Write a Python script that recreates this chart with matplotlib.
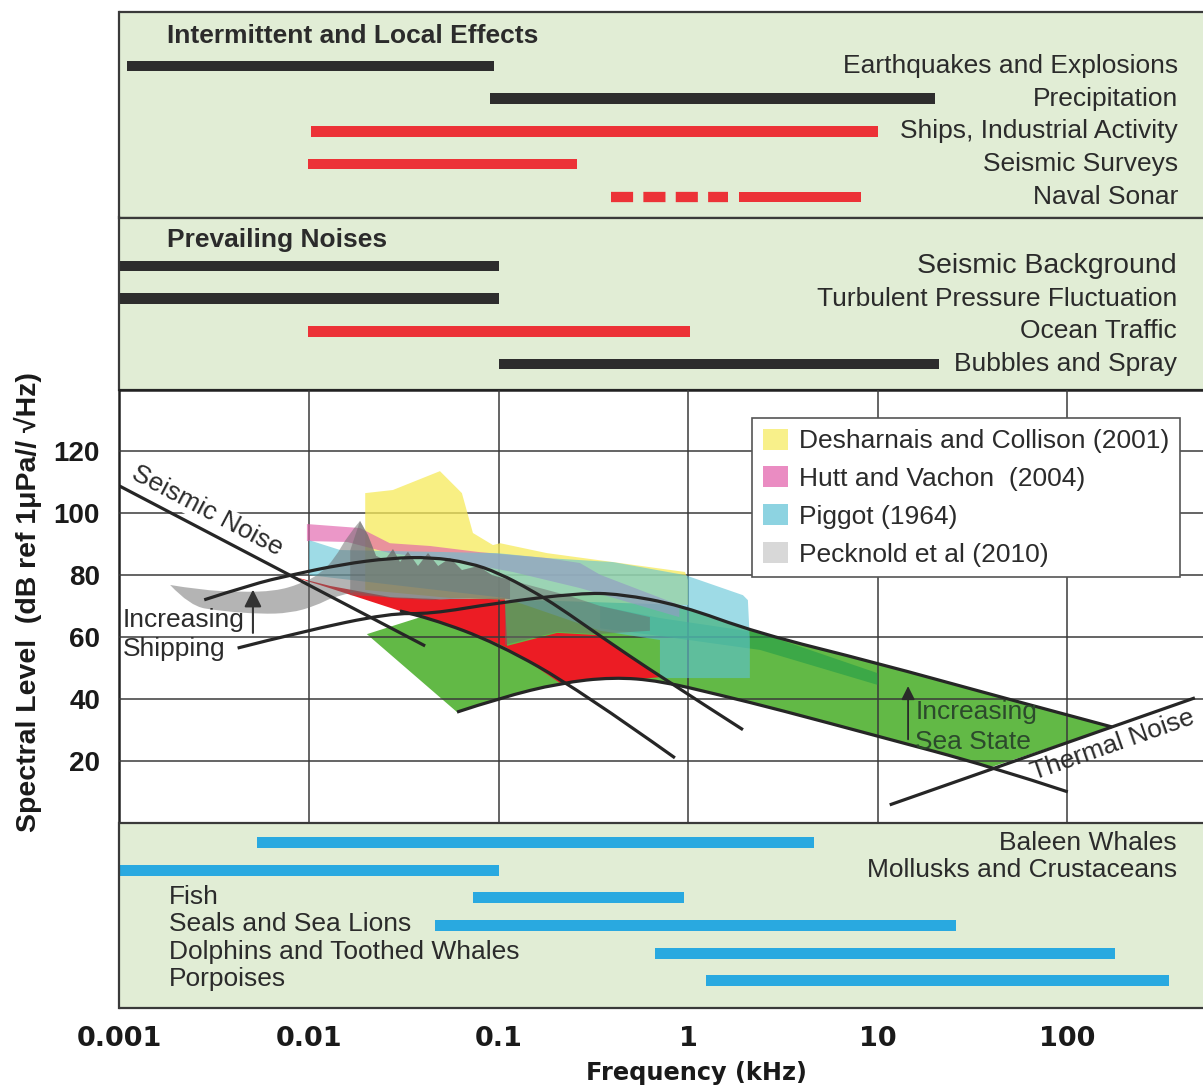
import numpy as np
import matplotlib.pyplot as plt
from matplotlib.patches import Patch, PathPatch
from matplotlib.path import Path
from matplotlib.ticker import NullLocator

plt.rcParams['font.family'] = ['Liberation Sans', 'DejaVu Sans']

F_MIN, F_MAX = 0.001, 522.0

# ---- band panels (frequency ranges in kHz) ----
local_labels = ['Earthquakes and Explosions', 'Precipitation', 'Ships, Industrial Activity',
                'Seismic Surveys', 'Naval Sonar']
local_lo = [0.0011, 0.09, 0.0102, 0.0099, 1.86]
local_hi = [0.095, 20.0, 10.0, 0.26, 8.2]
local_kind = ['natural', 'natural', 'human', 'human', 'human']
sonar_dash_range = [0.39, 1.63]

prevailing_labels = ['Seismic Background', 'Turbulent Pressure Fluctuation', 'Ocean Traffic',
                     'Bubbles and Spray']
prevailing_lo = [0.001, 0.001, 0.0099, 0.1]
prevailing_hi = [0.1, 0.1, 1.02, 21.0]
prevailing_kind = ['natural', 'natural', 'human', 'natural']

bio_labels = ['Baleen Whales', 'Mollusks and Crustaceans', 'Fish', 'Seals and Sea Lions',
              'Dolphins and Toothed Whales', 'Porpoises']
bio_lo = [0.0053, 0.001, 0.073, 0.046, 0.67, 1.24]
bio_hi = [4.6, 0.1, 0.95, 26.0, 180.0, 345.0]

# ---- spectral curves (kHz, dB) ----
seismic_f = [0.001, 0.041]
seismic_db = [108.8, 57.1]

heavy_ship_f = [0.0028, 0.005, 0.008, 0.015, 0.027, 0.044, 0.07, 0.1, 0.15, 0.21, 0.34, 0.7, 1.95]
heavy_ship_db = [72, 77, 80, 83.5, 85.5, 85.8, 84, 80.7, 75, 69.5, 60.5, 47.5, 30]

light_ship_f = [0.0302, 0.0436, 0.098, 0.269, 0.853]
light_ship_db = [68.4, 66.1, 58.0, 42.8, 20.9]

sea_high_f = [0.0042, 0.009, 0.0267, 0.0436, 0.098, 0.269, 0.438, 0.908, 2.31, 9.9, 44.3, 172.6]
sea_high_db = [56.4, 61.6, 67.7, 67.4, 71.0, 74.2, 73.9, 70.3, 61.3, 51.6, 40.6, 30.9]

sea_low_f = [0.0604, 0.102, 0.211, 0.402, 0.711, 1.48, 3.05, 9.9, 40.2, 101]
sea_low_db = [35.7, 40.3, 45.1, 47.0, 45.8, 41.2, 36.4, 28.0, 18.0, 9.9]

thermal_f = [11.6, 473]
thermal_db = [5.7, 40.3]

# left corner of the sea state band and its tip on the thermal line
sea_band_corner = (0.0202, 60.9)
sea_band_tip = (40.2, 18.0)

# shipping band outline
ship_band_f = [0.0080, 0.0129, 0.0268, 0.0491, 0.108, 0.111, 0.204, 0.331, 0.494, 0.711, 0.558,
               0.402, 0.304, 0.211, 0.147, 0.111, 0.0982, 0.0627, 0.0435, 0.0302, 0.0186, 0.0114]
ship_band_db = [79.7, 76.5, 72.9, 72.2, 72.6, 57.1, 61.3, 60.6, 53.8, 47.0, 46.4,
                46.7, 46.1, 45.1, 51.6, 56.4, 58.0, 62.8, 66.1, 68.4, 72.6, 76.8]

# measured spectra
desharnais_f = [0.0198, 0.0277, 0.0491, 0.0641, 0.0733, 0.0935, 0.102, 0.180, 0.402, 0.964,
                1.0, 1.0, 0.211, 0.0555, 0.0198]
desharnais_db = [106.5, 107.5, 113.6, 106.5, 93.6, 89.7, 90.3, 87.1, 84.2, 81.0,
                 78.4, 70.3, 71.6, 72.6, 75.2]

hutt_f = [0.00975, 0.0186, 0.0267, 0.0436, 0.0799, 0.180, 0.269, 0.344, 0.9,
          0.9, 0.269, 0.119, 0.0535, 0.0267, 0.0159, 0.00975]
hutt_db = [96.5, 95.2, 90.3, 89.4, 87.4, 85.5, 83.9, 80.1, 70.3,
           66.4, 75.8, 81.0, 84.9, 87.1, 90.7, 91.0]

piggot_f = [0.01, 0.0146, 0.098, 0.180, 0.402, 0.964, 1.95, 2.07, 2.12, 2.12,
            0.711, 0.711, 0.344, 0.108, 0.01]
piggot_db = [91.3, 88.1, 87.1, 85.5, 84.2, 80.0, 73.5, 71.9, 59.0, 46.7,
             46.7, 59.0, 62.0, 72.6, 80.0]

# Pecknold outline: smooth arc on top, spiky spectrum, then the lower edge
pecknold_arc_f = [0.00185, 0.00266, 0.00432, 0.00662, 0.00897, 0.01143, 0.01371, 0.01606, 0.01859]
pecknold_arc_db = [76.8, 75.2, 74.5, 74.8, 77.1, 80.3, 85.5, 92.9, 97.5]
pecknold_spike_f = [0.02047, 0.02259, 0.02518, 0.02774, 0.03022, 0.03327, 0.03758, 0.04248, 0.04801,
                    0.05546, 0.06412, 0.07798, 0.0924, 0.115, 0.1656, 0.2384, 0.3435, 0.6295]
pecknold_spike_db = [92.9, 86.2, 84.9, 88.4, 84.2, 87.5, 82.9, 87.1, 82.9,
                     85.5, 81.6, 82.9, 80.0, 78.4, 75.8, 73.2, 70.0, 66.4]
pecknold_base_f = [0.6295, 0.331, 0.2035, 0.1082, 0.1082, 0.0708, 0.0435, 0.0268, 0.0175]
pecknold_base_db = [62.0, 60.9, 61.6, 57.4, 72.0, 72.6, 71.9, 72.6, 74.5]
pecknold_under_f = [0.0175, 0.0137, 0.0108, 0.00795, 0.00552, 0.00339, 0.00235, 0.00185]
pecknold_under_db = [74.5, 73.2, 70.0, 67.7, 67.4, 68.4, 70.0, 76.8]
# denser core of the Pecknold spectra
pecknold_core_f = [0.0165, 0.01859, 0.02047, 0.02259, 0.02518, 0.02774, 0.03022, 0.03327, 0.03758,
                   0.04248, 0.04801, 0.05546, 0.06412, 0.07798, 0.0924, 0.115, 0.115, 0.0435, 0.0165]
pecknold_core_db = [88.0, 97.5, 92.9, 86.2, 84.9, 88.4, 84.2, 87.5, 82.9,
                    87.1, 82.9, 85.5, 81.6, 82.9, 80.0, 78.4, 72.2, 72.2, 73.5]

wind_band_f = [0.344, 0.711, 2.40, 10.0, 10.0, 2.40, 0.711, 0.344]
wind_band_db = [70.0, 66.1, 61.3, 48.3, 44.5, 55.8, 60.3, 62.8]

legend_labels = ['Desharnais and Collison (2001)', 'Hutt and Vachon  (2004)',
                 'Piggot (1964)', 'Pecknold et al (2010)']
legend_colors = ['#f8f08a', '#ea8cc2', '#8dd3e1', '#d8d8d8']

freq_ticks = [0.001, 0.01, 0.1, 1, 10, 100]
freq_tick_labels = ['0.001', '0.01', '0.1', '1', '10', '100']
level_ticks = [20, 40, 60, 80, 100, 120]

BG = '#e1edd5'
EDGE = '#3a3a3a'
TXT = '#2b2b2b'
LINE = '#262626'
BAR_COLORS = {'natural': '#2d2d2d', 'human': '#ec3237'}
BLUE = '#29a9e0'
GRAY = '#6b6b6b'


def _mid(a, b):
    # midpoint on a log-frequency axis
    return (np.sqrt(a[0] * b[0]), 0.5 * (a[1] + b[1]))


def _piece(f, db, smooth):
    pts = list(zip(f, db))
    if not smooth or len(pts) < 3:
        return pts, [Path.LINETO] * len(pts)
    verts, codes = [pts[0]], [Path.LINETO]
    for i in range(1, len(pts) - 1):
        end = pts[-1] if i == len(pts) - 2 else _mid(pts[i], pts[i + 1])
        verts += [pts[i], end]
        codes += [Path.CURVE3, Path.CURVE3]
    return verts, codes


def make_path(pieces, closed=False):
    verts, codes = [], []
    for f, db, smooth in pieces:
        v, c = _piece(f, db, smooth)
        verts += v
        codes += c
    codes[0] = Path.MOVETO
    if closed:
        verts.append(verts[0])
        codes.append(Path.CLOSEPOLY)
    return Path(verts, codes)


W, H = 1203, 1090
fig = plt.figure(figsize=(W / 100, H / 100), dpi=100)


def box(x0, y0, x1, y1):
    return [x0 / W, 1 - y1 / H, (x1 - x0) / W, (y1 - y0) / H]


def panel(a, ylim):
    a.set_xscale('log')
    a.set_xlim(F_MIN, F_MAX)
    a.set_ylim(*ylim)
    a.set_facecolor(BG)
    a.set_xticks([])
    a.set_yticks([])
    a.xaxis.set_minor_locator(NullLocator())
    for s in a.spines.values():
        s.set_color(EDGE)
        s.set_linewidth(1.6)
    a.spines['right'].set_visible(False)


ax_local = fig.add_axes(box(119.5, 11.5, 1203, 217.5))
ax_prev = fig.add_axes(box(119.5, 217.5, 1203, 389.5))
ax = fig.add_axes(box(119.5, 389.5, 1203, 822.5))
ax_bio = fig.add_axes(box(119.5, 822.5, 1203, 1008))

# intermittent and local effects
panel(ax_local, (5.614, -0.647))
rows = np.arange(1, len(local_labels) + 1)
lo, hi = np.array(local_lo), np.array(local_hi)
ax_local.barh(rows, hi - lo, left=lo, height=0.31,
              color=[BAR_COLORS[k] for k in local_kind])
ax_local.plot(sonar_dash_range, [rows[-1]] * 2, color=BAR_COLORS['human'], lw=7.4,
              dashes=(2.15, 1.0), dash_capstyle='butt')
for r, lab in zip(rows, local_labels):
    ax_local.text(0.977, r, lab, transform=ax_local.get_yaxis_transform(),
                  ha='right', va='center', fontsize=19, color=TXT)
ax_local.text(0.0438, 0.1, 'Intermittent and Local Effects', transform=ax_local.get_yaxis_transform(),
              ha='left', va='center', fontsize=19, fontweight='bold', color=TXT)

# prevailing noises
panel(ax_prev, (4.763, -0.465))
rows = np.arange(1, len(prevailing_labels) + 1)
lo, hi = np.array(prevailing_lo), np.array(prevailing_hi)
ax_prev.barh(rows, hi - lo, left=lo, height=0.31,
             color=[BAR_COLORS[k] for k in prevailing_kind])
for r, lab in zip(rows, prevailing_labels):
    ax_prev.text(0.976, r, lab, transform=ax_prev.get_yaxis_transform(),
                 ha='right', va='center', fontsize=20.5 if r == 1 else 19, color=TXT)
ax_prev.text(0.0438, 0.22, 'Prevailing Noises', transform=ax_prev.get_yaxis_transform(),
             ha='left', va='center', fontsize=19, fontweight='bold', color=TXT)

# biological sources
panel(ax_bio, (6.989, 0.268))
rows = np.arange(1, len(bio_labels) + 1)
lo, hi = np.array(bio_lo), np.array(bio_hi)
ax_bio.barh(rows, hi - lo, left=lo, height=0.40, color=BLUE)
for r, lab in zip(rows, bio_labels):
    if r <= 2:
        ax_bio.text(0.976, r, lab, transform=ax_bio.get_yaxis_transform(),
                    ha='right', va='center', fontsize=19, color=TXT)
    else:
        ax_bio.text(0.0455, r - 0.05, lab, transform=ax_bio.get_yaxis_transform(),
                    ha='left', va='center', fontsize=19, color=TXT)
ax_bio.set_xticks(freq_ticks)
ax_bio.set_xticklabels(freq_tick_labels)
ax_bio.tick_params(axis='x', length=0, pad=13, labelsize=19.5)
for t in ax_bio.get_xticklabels():
    t.set_fontfamily('DejaVu Sans')
    t.set_fontweight('bold')
    t.set_color('#1a1a1a')

# main spectrum plot
ax.set_xscale('log')
ax.set_xlim(F_MIN, F_MAX)
ax.set_ylim(0, 140)
ax.set_xticks(freq_ticks[1:])
ax.set_xticklabels([])
ax.xaxis.set_minor_locator(NullLocator())
ax.set_yticks(level_ticks)
ax.tick_params(axis='both', length=0)
ax.tick_params(axis='y', pad=14, labelsize=20)
for t in ax.get_yticklabels():
    t.set_fontweight('bold')
    t.set_color('#1a1a1a')
ax.set_axisbelow(False)
ax.grid(True, color='#3a3a3a', lw=1.1)
for s in ax.spines.values():
    s.set_color('#222222')
    s.set_linewidth(1.8)
ax.spines['right'].set_visible(False)

# sea state band: corner, upper curve, thermal line, lower curve back
i0 = 3
sea_band = make_path([
    ([sea_band_corner[0]], [sea_band_corner[1]], False),
    (sea_high_f[i0:], sea_high_db[i0:], True),
    ([sea_band_tip[0]], [sea_band_tip[1]], False),
    (sea_low_f[-2::-1], sea_low_db[-2::-1], True),
], closed=True)
ax.add_patch(PathPatch(sea_band, facecolor='#62b946', lw=0, zorder=1))
ax.fill(ship_band_f, ship_band_db, color='#ec1c24', lw=0, zorder=1.2)
ax.fill(wind_band_f, wind_band_db, color='#1d9a48', alpha=0.55, lw=0, zorder=2.6)
ax.fill(desharnais_f, desharnais_db, color='#f6ea5a', alpha=0.75, lw=0, zorder=2.7)
ax.fill(hutt_f, hutt_db, color='#e160ab', alpha=0.65, lw=0, zorder=2.8)
ax.fill(piggot_f, piggot_db, color='#5ec3d6', alpha=0.6, lw=0, zorder=2.9)
pecknold = make_path([
    (pecknold_arc_f, pecknold_arc_db, True),
    (pecknold_spike_f, pecknold_spike_db, False),
    (pecknold_base_f, pecknold_base_db, False),
    (pecknold_under_f, pecknold_under_db, True),
], closed=True)
ax.add_patch(PathPatch(pecknold, facecolor=GRAY, alpha=0.5, lw=0, zorder=3.0))
ax.fill(pecknold_core_f, pecknold_core_db, color=GRAY, alpha=0.5, lw=0, zorder=3.05)

for f, db in [(seismic_f, seismic_db), (heavy_ship_f, heavy_ship_db),
              (light_ship_f, light_ship_db), (sea_high_f, sea_high_db),
              (sea_low_f, sea_low_db), (thermal_f, thermal_db)]:
    ax.add_patch(PathPatch(make_path([(f, db, True)]), fill=False, edgecolor=LINE,
                           lw=2.3, capstyle='butt', zorder=5))

ax.text(0.0029, 100.7, 'Seismic Noise', rotation=-27.8, ha='center', va='center',
        fontsize=19, color=TXT, zorder=4.5,
        bbox=dict(facecolor='white', edgecolor='none', pad=0.5))
ax.text(175, 25.1, 'Thermal Noise', rotation=19.3, ha='center', va='center',
        fontsize=19, color=TXT, zorder=6)
ax.text(0.00104, 65.5, 'Increasing', ha='left', va='center', fontsize=19, color=TXT, zorder=6)
ax.text(0.00104, 56.1, 'Shipping', ha='left', va='center', fontsize=19, color=TXT, zorder=6)
ax.annotate('', xy=(0.00506, 76.2), xytext=(0.00506, 60.4), zorder=6,
            arrowprops=dict(arrowstyle='-|>', color='#333333', lw=1.5, mutation_scale=26))
ax.text(15.8, 35.8, 'Increasing', ha='left', va='center', fontsize=19, color='#2c4a2c', zorder=6)
ax.text(15.8, 26.1, 'Sea State', ha='left', va='center', fontsize=19, color='#2c4a2c', zorder=6)
ax.annotate('', xy=(14.5, 45.0), xytext=(14.5, 26.0), zorder=6,
            arrowprops=dict(arrowstyle='-|>', color='#2a2a2a', lw=1.3, mutation_scale=20))

handles = [Patch(facecolor=c, edgecolor='none') for c in legend_colors]
leg = ax.legend(handles, legend_labels, loc='upper left', bbox_to_anchor=(0.5838, 0.9342),
                fontsize=19, frameon=True, fancybox=False, edgecolor='#555555', framealpha=1,
                borderpad=0.4, handlelength=0.95, handleheight=0.85, handletextpad=0.42,
                labelspacing=0.5, borderaxespad=0)
leg.get_frame().set_linewidth(1.2)
leg.set_zorder(7)
for t in leg.get_texts():
    t.set_color(TXT)

fig.text(696 / W, 1 - 1073 / H, 'Frequency (kHz)', ha='center', va='center',
         fontsize=17.3, fontweight='bold', family='DejaVu Sans', color='#1a1a1a')
fig.text(28 / W, 1 - 602 / H, 'Spectral Level  (dB ref 1\u03bcPa// \u221aHz)', rotation=90,
         ha='center', va='center', fontsize=20.5, fontweight='bold', color='#1a1a1a')

fig.savefig('out.png', dpi=100)
